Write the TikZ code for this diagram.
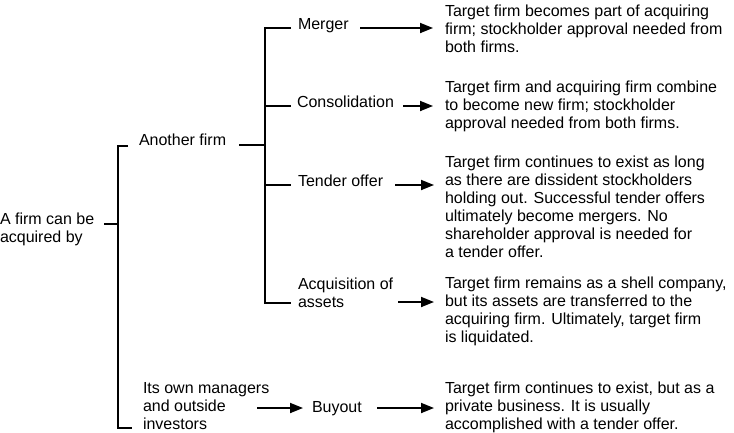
\documentclass[tikz,border=0pt]{standalone}
\usepackage{fontspec}
\setmainfont{Liberation Sans}
\usetikzlibrary{arrows.meta}
\begin{document}
\begin{tikzpicture}[x=1pt,y=-1pt,
  txt/.style={anchor=base west,inner sep=0pt,outer sep=0pt,align=left,font=\fontsize{16}{18}\selectfont},
  ln/.style={line width=1.8pt},
  arr/.style={line width=1.8pt,-{Triangle[length=13pt,width=10pt]}}]
\useasboundingbox (0,0) rectangle (734,432);
% labels (anchor = baseline of the last line)
\node[txt] (root) at (0,242) {A firm can be\\acquired by};
\node[txt] (another) at (139,145) {Another firm};
\node[txt] (own) at (143,429) {Its own managers\\and outside\\investors};
\node[txt] (merger) at (298,29) {Merger};
\node[txt] (consol) at (297,107) {Consolidation};
\node[txt] (tender) at (298,186) {Tender offer};
\node[txt] (acq) at (298,307) {Acquisition of\\assets};
\node[txt] (buyout) at (312,412) {Buyout};
% descriptions
\node[txt] (dm) at (445,52) {Target firm becomes part of acquiring\\firm; stockholder approval needed from\\both firms.};
\node[txt] (dc) at (445,128) {Target firm and acquiring firm combine\\to become new firm; stockholder\\approval needed from both firms.};
\node[txt] (dt) at (445,257) {Target firm continues to exist as long\\as there are dissident stockholders\\holding out. Successful tender offers\\ultimately become mergers. No\\shareholder approval is needed for\\a tender offer.};
\node[txt] (da) at (445,342) {Target firm remains as a shell company,\\but its assets are transferred to the\\acquiring firm. Ultimately, target firm\\is liquidated.};
\node[txt] (db) at (445,429) {Target firm continues to exist, but as a\\private business. It is usually\\accomplished with a tender offer.};
% coordinates
\coordinate (r0) at (104,224);
\coordinate (r1) at (118,224);
\coordinate (rt) at (118,146);
\coordinate (rte) at (128,146);
\coordinate (rb) at (118,428);
\coordinate (rbe) at (132,428);
\coordinate (a0) at (239,145);
\coordinate (a1) at (265,145);
\coordinate (bt) at (265,28);
\coordinate (bb) at (265,303);
\coordinate (mt) at (291,28);
\coordinate (ct0) at (265,106);
\coordinate (ct) at (291,106);
\coordinate (tt0) at (265,185);
\coordinate (tt) at (291,185);
\coordinate (at) at (291,303);
% brackets
\draw[ln] (r0) -- (r1);
\draw[ln] (rte) -- (rt) -- (rb) -- (rbe);
\draw[ln] (a0) -- (a1);
\draw[ln] (mt) -- (bt) -- (bb) -- (at);
\draw[ln] (ct0) -- (ct);
\draw[ln] (tt0) -- (tt);
% arrows
\draw[arr] (360,28) -- (433,28);
\draw[arr] (403,106) -- (433,106);
\draw[arr] (395,185) -- (434,185);
\draw[arr] (398,302) -- (434,302);
\draw[arr] (257,408) -- (303,408);
\draw[arr] (377,408) -- (434,408);
\end{tikzpicture}
\end{document}
